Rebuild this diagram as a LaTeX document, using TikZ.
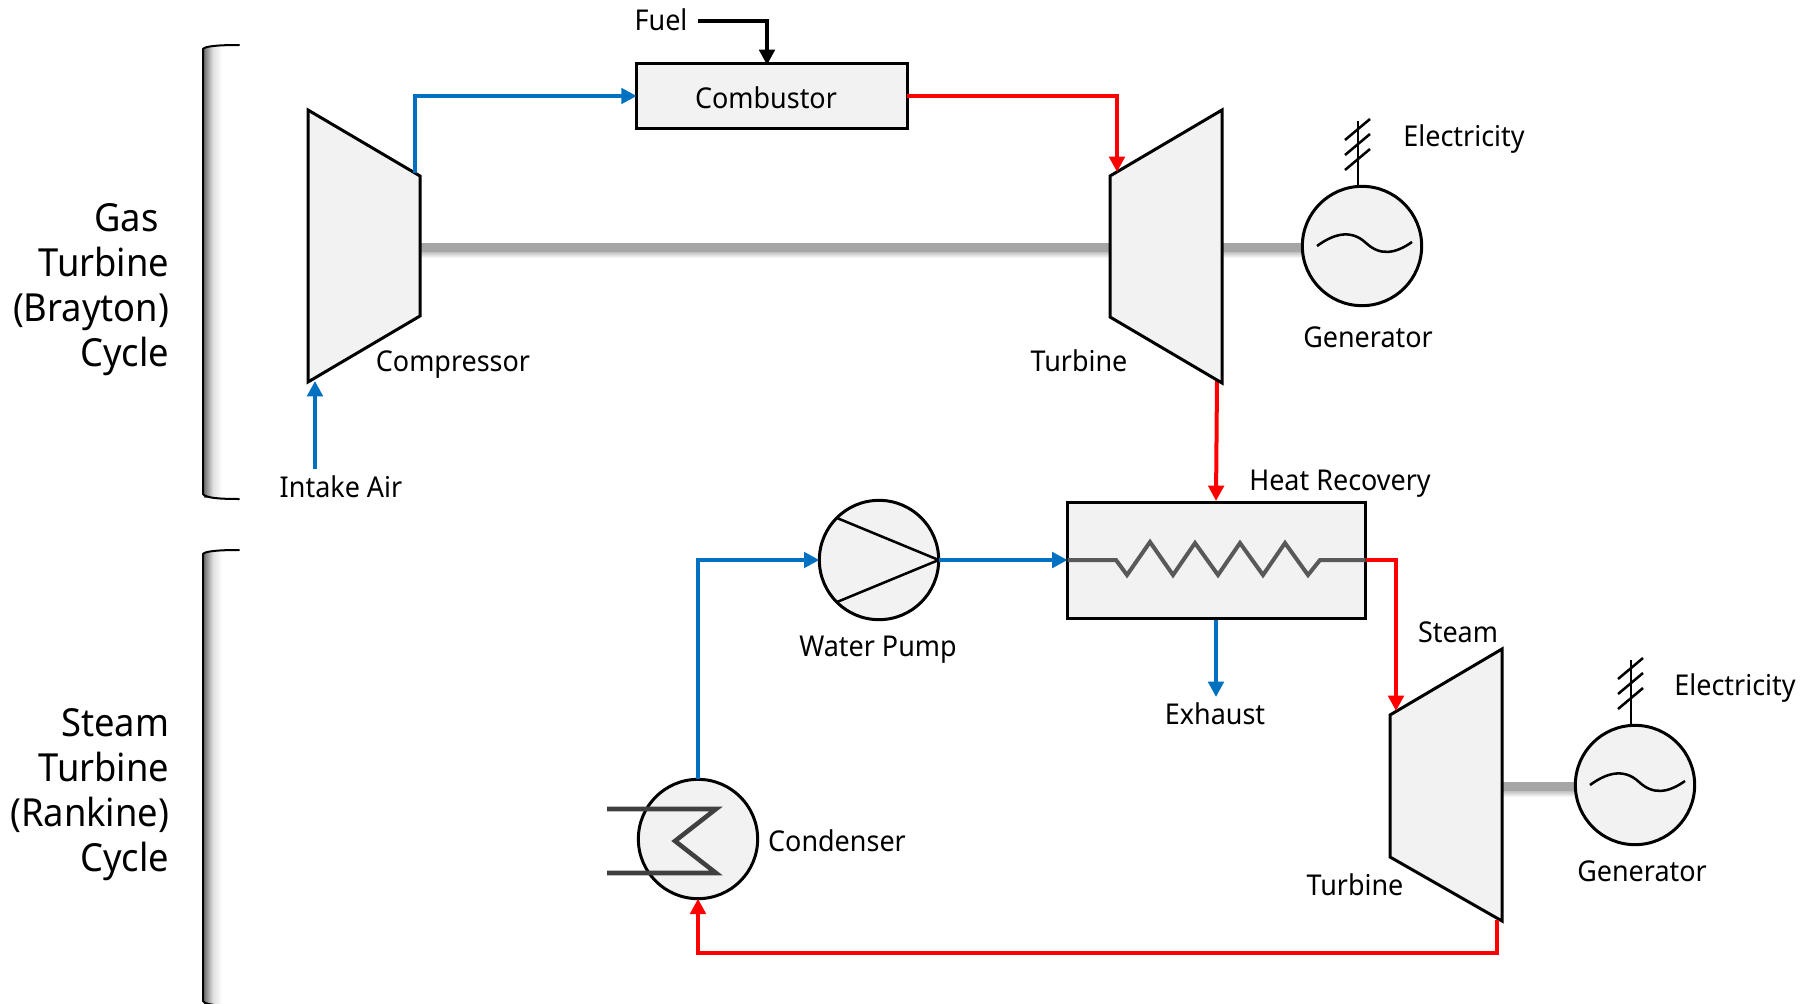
\documentclass[tikz,border=0pt]{standalone}
\usepackage{fontspec}
\setmainfont[FakeStretch=0.94]{Noto Sans}
\usetikzlibrary{arrows.meta,calc}
\definecolor{bluepipe}{HTML}{0070C0}
\definecolor{redpipe}{HTML}{FF0000}
\definecolor{unitfill}{HTML}{F2F2F2}
\definecolor{coilgray}{HTML}{595959}
\definecolor{shaftgray}{HTML}{A6A6A6}
\tikzset{
  unitline/.style={draw=black,line width=2.25pt,fill=unitfill,line join=miter},
  rectunit/.style={unitline,rectangle,inner sep=0pt,outer sep=0pt},
  circunit/.style={unitline,circle,inner sep=0pt,outer sep=0pt,minimum size=89.5pt},
  pipe/.style={line width=3pt,-{Triangle[length=11.5pt,width=11.5pt]},line join=miter},
  bluearrow/.style={pipe,draw=bluepipe},
  redarrow/.style={pipe,draw=redpipe},
  blackarrow/.style={pipe,draw=black},
  lbl/.style={inner sep=0pt,anchor=base,font=\fontsize{21.5pt}{24pt}\selectfont},
  bigl/.style={inner sep=0pt,align=right,anchor=east,font=\fontsize{29pt}{33.75pt}\selectfont},
  thin line/.style={draw=black,line width=1.9pt},
}
\newcommand{\shaftrun}[3]{% x1 x2 y
  \fill[shaftgray] (#1,#3-4) rectangle (#2,#3+5);
  \fill[top color=shaftgray!70,bottom color=white] (#1,#3+5) rectangle (#2,#3+11);
}
\newcommand{\bracketshape}[2]{% top bottom
  \fill[left color=black!55,right color=white,middle color=black!12] (204,#1+2) rectangle (222,#2-2);
  \draw[line width=1.5pt,black,line cap=round] (239,#1) .. controls (220,#1) and (205,#1+1) .. (203,#1+4) -- (203,#2-5) .. controls (205,#2-1) and (220,#2) .. (239,#2);
}
\begin{document}
\begin{tikzpicture}[x=0.75pt,y=-0.75pt]
\useasboundingbox (0,0) rectangle (1816,1003);
\fill[white] (0,0) rectangle (1816,1003);

% brackets
\bracketshape{45}{499}
\bracketshape{550}{1006}

% group labels
\node[bigl] (gaslabel) at (169.5,289.5) {Gas\kern 8pt\\Turbine\\(Brayton)\\Cycle};
\node[bigl] (steamlabel) at (169.5,794.5) {Steam\\Turbine\\(Rankine)\\Cycle};

% named points
\coordinate (compTL) at (308,110);
\coordinate (compTR) at (420,176);
\coordinate (compBR) at (420,316);
\coordinate (compBL) at (308,382);
\coordinate (turbTL) at (1110,176);
\coordinate (turbTR) at (1222,110);
\coordinate (turbBR) at (1222,383);
\coordinate (turbBL) at (1110,317);
\coordinate (stTL) at (1390,715);
\coordinate (stTR) at (1502,649);
\coordinate (stBR) at (1502,921);
\coordinate (stBL) at (1390,857);

% shafts
\shaftrun{420}{1110}{247}
\shaftrun{1222}{1302}{247}
\shaftrun{1502}{1575}{786}

% connectors that pass under the equipment outline
\coordinate (turbout) at (1217,380);
\coordinate (hrsgin) at (1216,501);
\draw[redarrow] (turbout) -- (hrsgin);

% equipment
\path[unitline] (compTL) -- (compTR) -- (compBR) -- (compBL) -- cycle;
\path[unitline] (turbTL) -- (turbTR) -- (turbBR) -- (turbBL) -- cycle;
\path[unitline] (stTL) -- (stTR) -- (stBR) -- (stBL) -- cycle;
\node[rectunit,minimum width=203pt,minimum height=49pt] (comb) at (772,96) {};
\node[lbl] (combtext) at (766,108) {Combustor};
\node[rectunit,minimum width=223.5pt,minimum height=87.5pt] (hrsg) at (1216.5,560.5) {};
\node[circunit] (gen1) at (1362,246) {};
\node[circunit] (gen2) at (1635,785) {};
\node[circunit] (pump) at (879,560) {};
\node[circunit] (cond) at (698,839) {};

% pump vanes
\coordinate (pumpA) at (837,518);
\coordinate (pumpB) at (837,602);
\draw[thin line] (pumpA) -- (pump.east) -- (pumpB);

% generator waves and electricity ticks
\foreach \g/\dx/\dy in {gen1/0/0,gen2/273/539}{
  \draw[thin line] (1317+\dx,246+\dy) .. controls (1332+\dx,235+\dy) and (1350+\dx,228+\dy) .. (1366+\dx,243+\dy) .. controls (1380+\dx,256+\dy) and (1395+\dx,254+\dy) .. (1412+\dx,242+\dy);
  \coordinate (top\g) at (1358+\dx,121+\dy);
  \draw[thin line] (top\g) -- (\g.north -| top\g);
  \draw[thin line] (1345+\dx,140+\dy) -- (1370+\dx,119+\dy);
  \draw[thin line] (1345+\dx,155+\dy) -- (1370+\dx,134+\dy);
  \draw[thin line] (1345+\dx,170+\dy) -- (1370+\dx,149+\dy);
}

% heat recovery coil
\draw[line width=3pt,draw=coilgray,line join=miter] (hrsg.west |- 0,560) -- (1116,560) -- (1127,575) -- (1150,542) -- (1173,575) -- (1195,543) -- (1218,575) -- (1240,543) -- (1263,575) -- (1285,543) -- (1308,575) -- (1320,560) -- (hrsg.east |- 0,560);

% condenser coil
\draw[line width=3.4pt,draw=black!75,line join=miter] (607,809) -- (716,809) -- (675,841) -- (716,873) -- (607,873);

% text labels
\node[lbl] (fuel) at (661,31) {Fuel};
\node[lbl] (intake) at (341,497) {Intake Air};
\node[lbl] (complbl) at (453,371) {Compressor};
\node[lbl] (turblbl) at (1079,371) {Turbine};
\node[lbl] (genlbl) at (1368,347) {Generator};
\node[lbl] (eleclbl) at (1464,146) {Electricity};
\node[lbl] (heatlbl) at (1340,490) {Heat Recovery};
\node[lbl] (pumplbl) at (878,656) {Water Pump};
\node[lbl] (exhlbl) at (1215,724) {Exhaust};
\node[lbl] (condlbl) at (837,851) {Condenser};
\node[lbl] (steamlbl) at (1458,642) {Steam};
\node[lbl] (turb2lbl) at (1355,895) {Turbine};
\node[lbl] (gen2lbl) at (1642,881) {Generator};
\node[lbl] (elec2lbl) at (1735,695) {Electricity};

% helper points
\coordinate (fuelstart) at (698,21);
\coordinate (fuelcorner) at (767,21);
\coordinate (combtop) at (767,65);
\coordinate (compout) at (415,173);
\coordinate (compoutc) at (415,96);
\coordinate (turbinc) at (1117,96);
\coordinate (turbin) at (1117,172);
\coordinate (intakestart) at (315,469);
\coordinate (intakeend) at (315,381);
\coordinate (hrsgoutc) at (1396,560);
\coordinate (stin) at (1396,711);
\coordinate (exhstart) at (1216,620);
\coordinate (exhend) at (1216,697);
\coordinate (condoutc) at (698,560);
\coordinate (stout) at (1497,920);
\coordinate (stoutc) at (1497,953);
\coordinate (condinc) at (698,953);

% connectors
\draw[blackarrow] (fuelstart) -- (fuelcorner) -- (combtop);
\draw[bluearrow] (compout) -- (compoutc) -- (comb.west);
\draw[redarrow] (comb.east) -- (turbinc) -- (turbin);
\draw[bluearrow] (intakestart) -- (intakeend);
\draw[bluearrow] (pump.east) -- (hrsg.west |- pump.east);
\draw[redarrow] (hrsg.east |- 0,560) -- (hrsgoutc) -- (stin);
\draw[bluearrow] (exhstart) -- (exhend);
\draw[bluearrow] (cond.north) -- (condoutc) -- (pump.west);
\draw[redarrow] (stout) -- (stoutc) -- (condinc) -- (cond.south);
\end{tikzpicture}
\end{document}
